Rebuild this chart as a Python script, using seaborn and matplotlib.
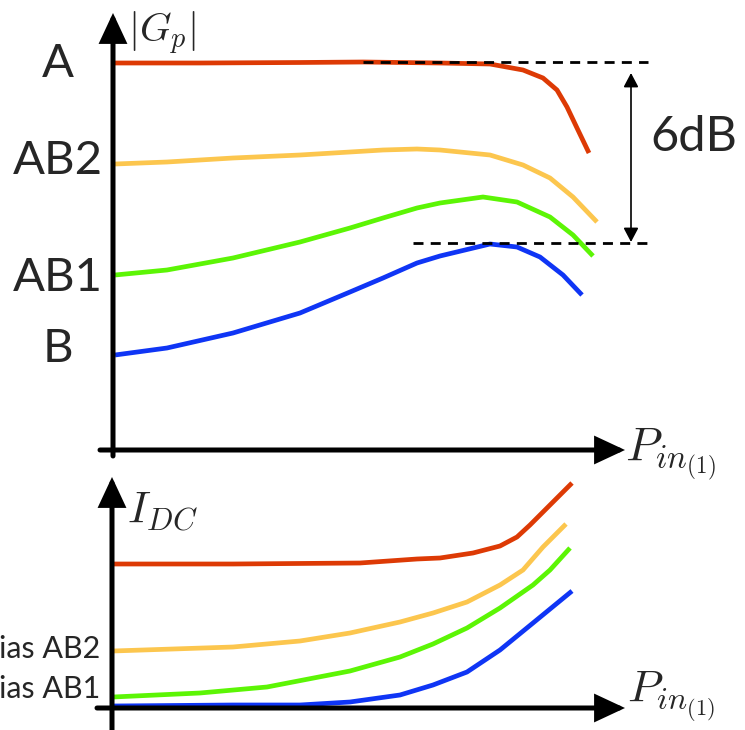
import matplotlib
matplotlib.use("Agg")
import matplotlib.pyplot as plt
import seaborn as sns
import pandas as pd

# ---------------- data ----------------
classes = ["A", "AB2", "AB1", "B"]
colors = {"A": "#DD3A05", "AB2": "#FCC64E", "AB1": "#5CF505", "B": "#0F35F5"}

# Top panel: power gain |Gp| vs input power
gp_A_pin = [0.4, 17.4, 37.4, 50, 65.4, 75.4, 82, 86, 88.8, 90.8, 92.8, 95.2]
gp_A_val = [77.4, 77.4, 77.5, 77.6, 77.4, 77.2, 76, 74.4, 72, 68.6, 64.4, 59.4]
gp_AB2_pin = [0.4, 10.8, 24, 37.4, 47.4, 54, 60.8, 65.4, 75.4, 82, 87.4, 92, 96.8]
gp_AB2_val = [57.2, 57.6, 58.4, 59, 59.6, 60, 60.2, 60, 59, 57, 54.4, 50.6, 45.6]
gp_AB1_pin = [0.4, 10.8, 24, 37.4, 47.4, 54, 60.8, 65.4, 74, 80.8, 87.4, 92, 96]
gp_AB1_val = [35, 36, 38.4, 41.6, 44.4, 46.4, 48.4, 49.4, 50.6, 49.6, 46.6, 43, 38.8]
gp_B_pin = [0.4, 10.8, 24, 37.4, 47.4, 54, 60.8, 65.4, 75.4, 80.8, 85.4, 90, 93.8]
gp_B_val = [19, 20.4, 23.4, 27.4, 31.6, 34.4, 37.4, 38.8, 41.2, 40.6, 38.6, 35, 31]

# Bottom panel: DC current vs input power
idc_A_pin = [0, 24, 49.4, 60.8, 65.4, 72, 77.4, 80.8, 83.4, 86.8, 91.8]
idc_A_val = [29, 29, 29.2, 30, 30.2, 31.2, 32.6, 34.4, 36.8, 40.2, 45.2]
idc_AB2_pin = [0, 24, 37.4, 47.4, 57.4, 64, 70.8, 77.4, 82, 86, 90.6]
idc_AB2_val = [11.6, 12.4, 13.6, 15.2, 17.4, 19.2, 21.4, 24.8, 27.8, 32.4, 37]
idc_AB1_pin = [0, 17.4, 30.8, 47.4, 57.4, 64, 70.8, 77.4, 84, 87.4, 91.4]
idc_AB1_val = [2.4, 3.2, 4.4, 7.6, 10.4, 13, 16.2, 20.2, 24.8, 27.8, 32.2]
idc_B_pin = [0, 24, 37.4, 47.4, 57.4, 64, 70.8, 77.4, 84, 91.8]
idc_B_val = [0.6, 0.8, 0.8, 1.4, 2.8, 4.8, 7.4, 11.8, 17.2, 23.6]

# reference levels of the 6 dB marker
gp_ref_top = 77.6
gp_ref_bottom = 41.4
gain_span_label = "6dB"
bias_labels = ["ias AB2", "ias AB1"]   # as visible in the reference (cut at the left edge)


def frame(pins, vals):
    rows = []
    for c in classes:
        for p, v in zip(pins[c], vals[c]):
            rows.append({"Pin": p, "val": v, "cls": c})
    return pd.DataFrame(rows)


df_top = frame({"A": gp_A_pin, "AB2": gp_AB2_pin, "AB1": gp_AB1_pin, "B": gp_B_pin},
               {"A": gp_A_val, "AB2": gp_AB2_val, "AB1": gp_AB1_val, "B": gp_B_val})
df_bot = frame({"A": idc_A_pin, "AB2": idc_AB2_pin, "AB1": idc_AB1_pin, "B": idc_B_pin},
               {"A": idc_A_val, "AB2": idc_AB2_val, "AB1": idc_AB1_val, "B": idc_B_val})

# ---------------- style ----------------
sns.set_style("white")
plt.rcParams["font.family"] = ["Lato", "DejaVu Sans"]
plt.rcParams["mathtext.fontset"] = "cm"
plt.rcParams["lines.solid_capstyle"] = "butt"
plt.rcParams["lines.solid_joinstyle"] = "round"

fig = plt.figure(figsize=(7.45, 7.30), dpi=100)
ax1 = fig.add_axes([0, 1 - 470 / 730, 1, 470 / 730])
ax2 = fig.add_axes([0, 0, 1, 260 / 730])

ax1.set_xlim(-22.6, 126.4)
ax1.set_ylim(-4, 90)
ax2.set_xlim(-22.6, 126.4)
ax2.set_ylim(-4.2, 47.8)

LW = 3.4
sns.lineplot(data=df_top, x="Pin", y="val", hue="cls", palette=colors, sort=False,
             estimator=None, lw=LW, legend=False, ax=ax1)
sns.lineplot(data=df_bot, x="Pin", y="val", hue="cls", palette=colors, sort=False,
             estimator=None, lw=LW, legend=False, ax=ax2)
for ax in (ax1, ax2):
    ax.set_axis_off()
    ax.patch.set_alpha(0)


def axis_arrow(ax, start, tip):
    ax.annotate("", xy=tip, xytext=start,
                arrowprops=dict(arrowstyle="-|>,head_length=0.9,head_width=0.42",
                                lw=3.6, color="black", shrinkA=0, shrinkB=0,
                                mutation_scale=18, joinstyle="miter"),
                annotation_clip=False)


# axes of top panel
axis_arrow(ax1, (-2.6, 0), (102.4, 0))
axis_arrow(ax1, (0, -1.2), (0, 87.4))
# axes of bottom panel
axis_arrow(ax2, (-3.2, 0.2), (102.4, 0.2))
axis_arrow(ax2, (-0.2, -4.2), (-0.2, 46.4))

# dashed reference lines and 6 dB span
ax1.plot([50, 107], [gp_ref_top, gp_ref_top], color="black", lw=2, dashes=(3.6, 2.6))
ax1.plot([60, 108], [gp_ref_bottom, gp_ref_bottom], color="black", lw=2, dashes=(3.6, 2.6))
ax1.annotate("", xy=(103.6, gp_ref_top - 2.2), xytext=(103.6, gp_ref_bottom + 0.2),
             arrowprops=dict(arrowstyle="<|-|>,head_length=0.85,head_width=0.45",
                             lw=1.2, color="black", shrinkA=0, shrinkB=0,
                             mutation_scale=10))
ax1.text(107.4, 62.6, gain_span_label, fontsize=35, ha="left", va="center")

# class labels at the left
for c, y in zip(classes, [77.2, 57.8, 34.4, 20.2]):
    ax1.text(-11, y, c, fontsize=34, ha="center", va="center")

ax1.text(3, 83.4, r"$|G_p|$", fontsize=29, ha="left", va="center")
ax1.text(102.4, -0.8, r"$P_{in_{(1)}}$", fontsize=34, ha="left", va="center")

ax2.text(2.8, 39.4, r"$I_{DC}$", fontsize=32, ha="left", va="center")
ax2.text(102.8, 2.4, r"$P_{in_{(1)}}$", fontsize=33, ha="left", va="center")
for lbl, y in zip(bias_labels, [12.0, 4.0]):
    ax2.text(-2.6, y, lbl, fontsize=22, ha="right", va="center")

fig.savefig("out.png", dpi=100)
